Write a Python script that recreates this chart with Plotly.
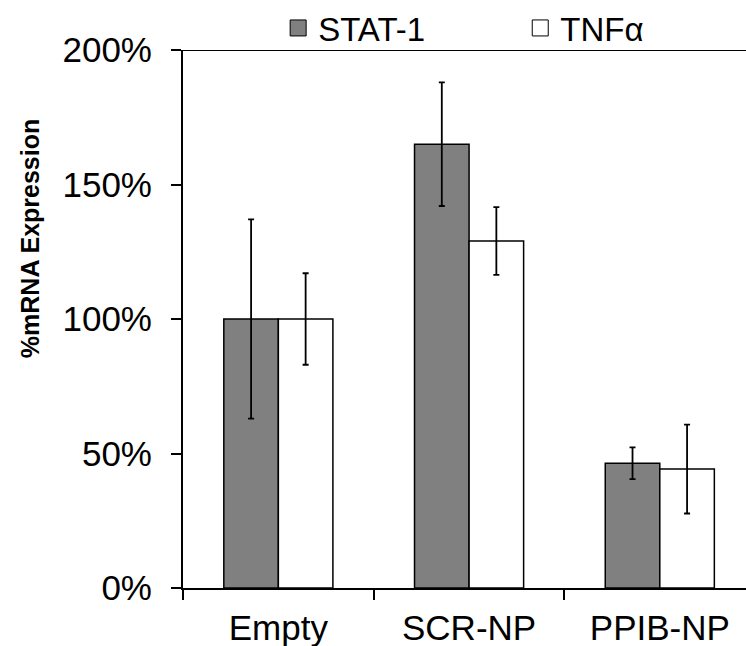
import plotly.graph_objects as go

categories = ["Empty", "SCR-NP", "PPIB-NP"]
stat1_vals = [100, 165, 46.4]
stat1_err = [37, 23, 5.9]
tnf_vals = [100, 129, 44.2]
tnf_err = [17, 12.6, 16.5]
y_ticks = [0, 50, 100, 150, 200]
y_tick_labels = ["0%", "50%", "100%", "150%", "200%"]

FONT = "Liberation Sans, Arial, sans-serif"

fig = go.Figure()
fig.add_trace(go.Bar(
    x=categories, y=stat1_vals, name="STAT-1", showlegend=False,
    marker=dict(color="#808080", line=dict(color="black", width=1.5)),
    error_y=dict(type="data", array=stat1_err, visible=True, color="black", thickness=1.8, width=3),
))
fig.add_trace(go.Bar(
    x=categories, y=tnf_vals, name="TNFα", showlegend=False,
    marker=dict(color="white", line=dict(color="black", width=1.5)),
    error_y=dict(type="data", array=tnf_err, visible=True, color="black", thickness=1.8, width=3),
))
# legend entries
fig.add_trace(go.Scatter(
    x=[None], y=[None], mode="markers", name="STAT-1", legend="legend",
    marker=dict(symbol="square", size=18, color="#808080", line=dict(color="black", width=1)),
))
fig.add_trace(go.Scatter(
    x=[None], y=[None], mode="markers", name="TNFα", legend="legend2",
    marker=dict(symbol="square", size=16, color="white", line=dict(color="black", width=1)),
))

fig.add_shape(type="line", xref="paper", yref="y", x0=0, x1=1, y0=200, y1=200,
              line=dict(color="black", width=2))

fig.add_annotation(text="<b>%mRNA Expression</b>", xref="paper", yref="paper",
                   x=-0.272, y=0.65, showarrow=False, textangle=-90,
                   font=dict(size=25, color="black", family=FONT),
                   xanchor="center", yanchor="middle")

LEG_Y = 1 + (50 - 28) / 538

fig.update_layout(
    width=746, height=646,
    margin=dict(l=183, r=0, t=50, b=58, autoexpand=False),
    paper_bgcolor="white", plot_bgcolor="white",
    barmode="group", bargap=0.428, bargroupgap=0,
    font=dict(family=FONT, color="black"),
    legend=dict(orientation="h", x=0.169, y=LEG_Y, xref="paper", yref="paper",
                xanchor="left", yanchor="middle", font=dict(size=33, family=FONT),
                bgcolor="rgba(0,0,0,0)", borderwidth=0),
    legend2=dict(orientation="h", x=0.599, y=LEG_Y, xref="paper", yref="paper",
                 xanchor="left", yanchor="middle", font=dict(size=33, family=FONT),
                 bgcolor="rgba(0,0,0,0)", borderwidth=0),
    xaxis=dict(
        type="category", range=[-0.5, 2.452],
        showline=True, linecolor="black", linewidth=2,
        ticks="outside", ticklen=10, tickwidth=1.5, tickcolor="black",
        tickson="boundaries", showgrid=False, ticklabelstandoff=8,
        tickfont=dict(size=35, family=FONT, color="black"),
    ),
    yaxis=dict(
        range=[0, 200], tickvals=y_ticks, ticktext=y_tick_labels,
        showline=True, linecolor="black", linewidth=2,
        ticks="outside", ticklen=10, tickwidth=1.5, tickcolor="black",
        showgrid=False, zeroline=False, ticklabelstandoff=12,
        tickfont=dict(size=35, family=FONT, color="black"),
    ),
)

fig.write_html("out.html", config={"displayModeBar": False},
               post_script="document.body.style.margin='0';")
